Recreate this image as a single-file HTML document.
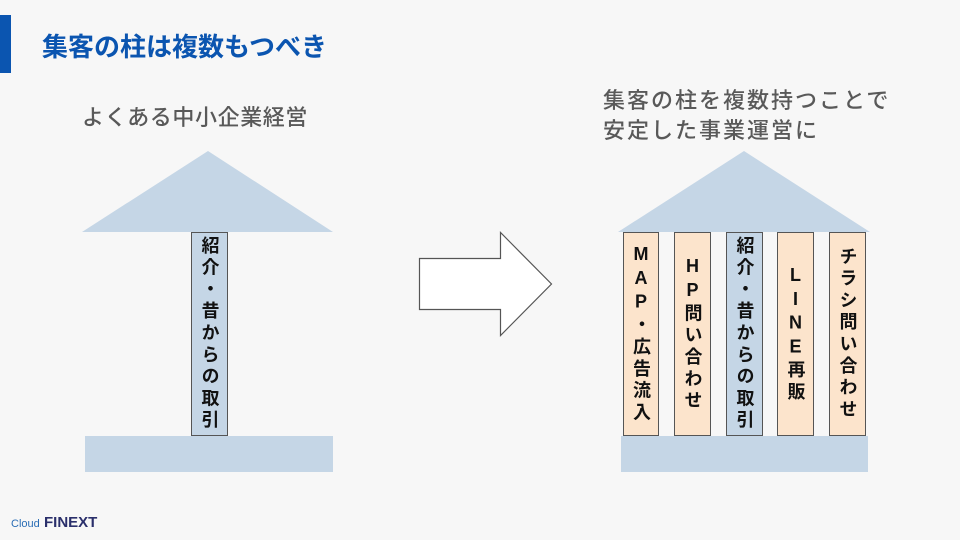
<!DOCTYPE html>
<html><head><meta charset="utf-8"><style>
body{margin:0;width:960px;height:540px;background:#f7f7f7;position:relative;overflow:hidden;font-family:"Liberation Sans","Noto Sans CJK JP",sans-serif}
.a{position:absolute}
.bar{left:0;top:15px;width:11px;height:58px;background:#0b55b0}
.title{left:42px;top:30px;font-size:26px;font-weight:bold;color:#0b55b0;line-height:34px;white-space:nowrap}
.sub{left:82px;top:104px;font-size:22px;font-weight:500;color:#595959;line-height:28px;letter-spacing:0.6px;white-space:nowrap}
.sub2{left:603px;top:86px;font-size:22px;font-weight:500;color:#595959;line-height:30px;letter-spacing:2px;white-space:nowrap}
.p{position:absolute;top:232px;height:204px;box-sizing:border-box;border:1px solid #555;display:flex;align-items:center;justify-content:center}
.p span{writing-mode:vertical-rl;text-orientation:upright;font-size:18px;font-weight:bold;color:#111;letter-spacing:3.8px;line-height:20px}
.o{background:#fce4cc}.b{background:#c5d6e6}
.base{background:#c5d6e6;position:absolute;top:436px;height:36px}
</style></head><body>
<div class="a bar"></div>
<div class="a title">集客の柱は複数もつべき</div>
<div class="a sub">よくある中小企業経営</div>
<div class="a sub2">集客の柱を複数持つことで<br>安定した事業運営に</div>
<svg class="a" style="left:0;top:0" width="960" height="540">
<polygon points="208,151 333,232 82,232" fill="#c5d6e6"/>
<polygon points="744,151 870,232 618,232" fill="#c5d6e6"/>
<polygon points="419.5,258.5 500.5,258.5 500.5,232.5 551.5,284 500.5,335.5 500.5,309.5 419.5,309.5" fill="#fff" stroke="#555" stroke-width="1.2"/>
</svg>
<div class="base" style="left:85px;width:248px"></div>
<div class="base" style="left:621px;width:247px"></div>
<div class="p b" style="left:191px;width:37px"><span>紹介・昔からの取引</span></div>
<div class="p o" style="left:623px;width:36px"><span>MAP・広告流入</span></div>
<div class="p o" style="left:674px;width:37px"><span>HP問い合わせ</span></div>
<div class="p b" style="left:726px;width:37px"><span>紹介・昔からの取引</span></div>
<div class="p o" style="left:777px;width:37px"><span>LINE再販</span></div>
<div class="p o" style="left:829px;width:37px"><span>チラシ問い合わせ</span></div>
<div class="a" style="left:11px;top:518px;font-size:11px;color:#2a6db5">Cloud</div>
<div class="a" style="left:44px;top:514px;font-size:15px;font-weight:bold;color:#2a2f6b">FINEXT</div>
</body></html>
